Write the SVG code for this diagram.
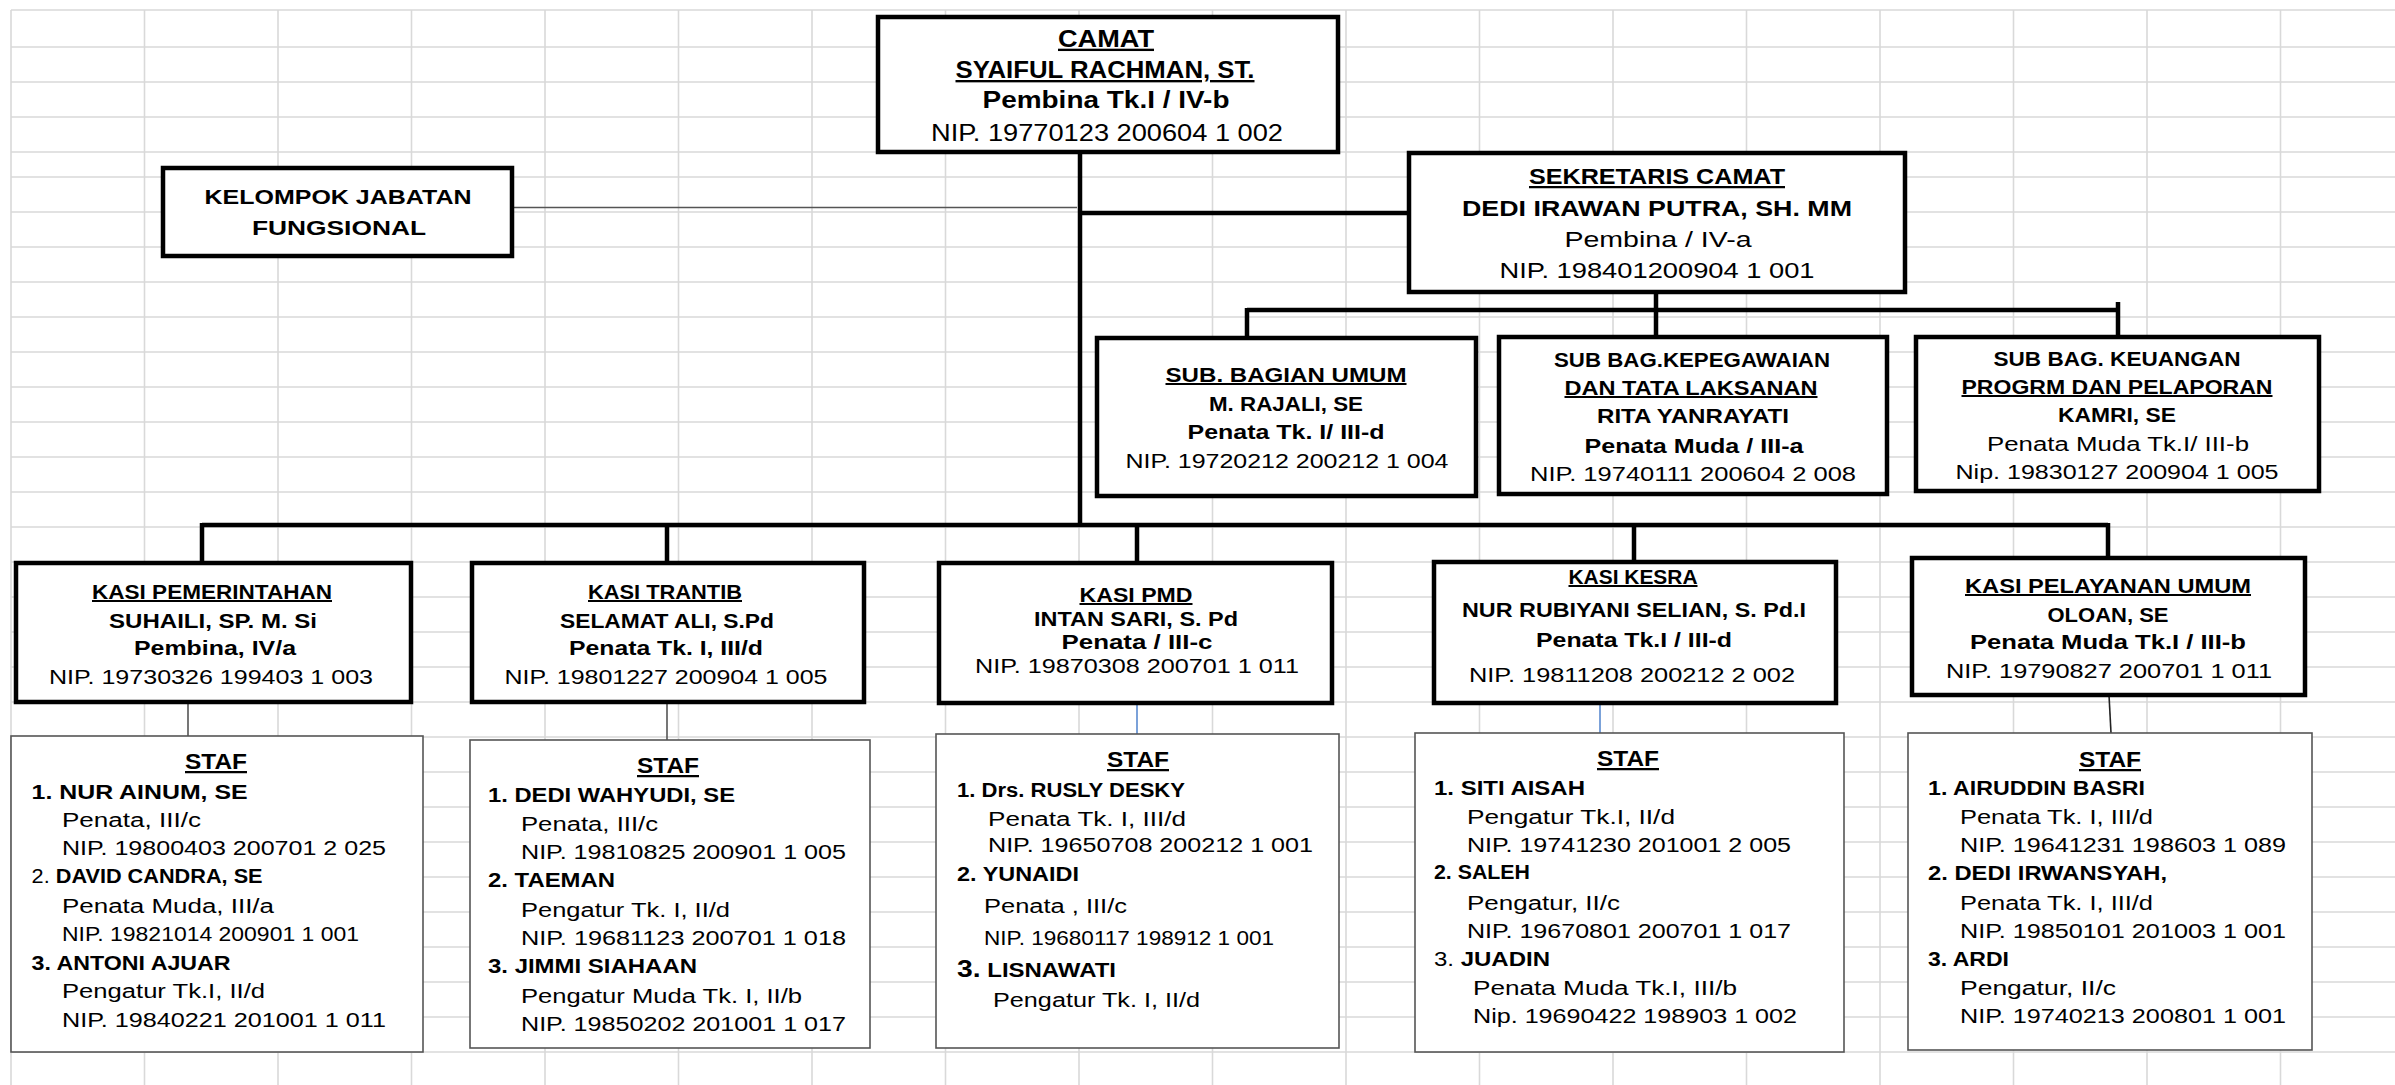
<svg xmlns="http://www.w3.org/2000/svg" width="2395" height="1085" viewBox="0 0 2395 1085">
<style>
text{font-family:"Liberation Sans",Arial,sans-serif;fill:#000}
.b{font-weight:bold}
.r{font-weight:normal}
.m{text-anchor:middle}
.u{text-decoration:underline}
.t{font-size:23.5px}
.k{font-size:20.5px}
.s{font-size:22.5px}
.p{font-size:20px}
.q{font-size:20px}
.f{font-size:19.5px}
.h{font-size:22.5px}
.box{fill:#fff;stroke:#000;stroke-width:4.5}
.sbox{fill:#fff;stroke:#555;stroke-width:1.6}
.grid{fill:none;stroke:#d9d9d9;stroke-width:1.6}
.thick{fill:none;stroke:#000;stroke-width:4.5}
.thin{fill:none;stroke:#555;stroke-width:1.6}
.blue{fill:none;stroke:#5b8bd0;stroke-width:1.6}
</style>
<rect x="0" y="0" width="2395" height="1085" fill="#fff"/>
<path class="grid" d="M11,10V1085M144.5,10V1085M278,10V1085M411.5,10V1085M545,10V1085M678.5,10V1085M812,10V1085M945.5,10V1085M1079,10V1085M1212.5,10V1085M1346,10V1085M1479.5,10V1085M1613,10V1085M1746.5,10V1085M1880,10V1085M2013.5,10V1085M2147,10V1085M2280.5,10V1085
M11,10H2395M11,47H2395M11,82H2395M11,117H2395M11,152H2395M11,177H2395M11,212H2395M11,247H2395M11,282H2395M11,317H2395M11,352H2395M11,387H2395M11,422H2395M11,457H2395M11,492H2395M11,527H2395M11,562H2395M11,597H2395M11,632H2395M11,667H2395M11,702H2395M11,737H2395M11,772H2395M11,807H2395M11,842H2395M11,877H2395M11,912H2395M11,947H2395M11,982H2395M11,1017H2395M11,1052H2395"/>

<g id="connectors">
<path class="thin" d="M512,207.5H1077"/>
<path class="thick" d="M1080,140V527"/>
<path class="thick" d="M1082,213H1409"/>
<path class="thick" d="M1656,292V310M1247,310H2118M1247,308V338M1656,310V337M2118,302V337"/>
<path class="thick" d="M202,525H2108M202,523V563M667,525V563M1137,525V563M1634,525V562M2108,523V558"/>
<path class="thin" d="M188,702V736M667,702V740"/>
<path class="blue" d="M1137,703V734M1600,703V733"/>
<path class="thin" d="M2109,695L2111,733" style="stroke:#222"/>
</g>

<g id="camat">
<rect class="box" x="878" y="17" width="460" height="135"/>
<text class="b m u t" x="1106" y="46.7" textLength="96" lengthAdjust="spacingAndGlyphs">CAMAT</text>
<text class="b m u t" x="1105" y="78" textLength="299" lengthAdjust="spacingAndGlyphs">SYAIFUL RACHMAN, ST.</text>
<text class="b m t" x="1106" y="108" textLength="247" lengthAdjust="spacingAndGlyphs">Pembina Tk.I / IV-b</text>
<text class="r m t" x="1107" y="141" textLength="352" lengthAdjust="spacingAndGlyphs">NIP. 19770123  200604 1 002</text>
</g>

<g id="kelompok">
<rect class="box" x="163" y="168" width="349" height="88"/>
<text class="b m k" x="338" y="204" textLength="267" lengthAdjust="spacingAndGlyphs">KELOMPOK JABATAN</text>
<text class="b m k" x="339" y="235" textLength="174" lengthAdjust="spacingAndGlyphs">FUNGSIONAL</text>
</g>

<g id="sekretaris">
<rect class="box" x="1409" y="153" width="496" height="139"/>
<text class="b m u s" x="1657" y="184" textLength="256" lengthAdjust="spacingAndGlyphs">SEKRETARIS CAMAT</text>
<text class="b m s" x="1657" y="216" textLength="390" lengthAdjust="spacingAndGlyphs">DEDI IRAWAN PUTRA, SH. MM</text>
<text class="r m s" x="1658" y="247" textLength="187" lengthAdjust="spacingAndGlyphs">Pembina / IV-a</text>
<text class="r m s" x="1657" y="278" textLength="315" lengthAdjust="spacingAndGlyphs">NIP. 198401200904  1 001</text>
</g>

<g id="sub-umum">
<rect class="box" x="1097" y="338" width="379" height="158"/>
<text class="b m u p" x="1286" y="382" textLength="241" lengthAdjust="spacingAndGlyphs">SUB. BAGIAN  UMUM</text>
<text class="b m p" x="1286" y="411" textLength="154" lengthAdjust="spacingAndGlyphs">M. RAJALI, SE</text>
<text class="b m p" x="1286" y="439" textLength="197" lengthAdjust="spacingAndGlyphs">Penata Tk. I/  III-d</text>
<text class="r m p" x="1287" y="468" textLength="323" lengthAdjust="spacingAndGlyphs">NIP. 19720212 200212 1 004</text>
</g>

<g id="sub-kepegawaian">
<rect class="box" x="1499" y="337" width="388" height="157"/>
<text class="b m p" x="1692" y="367" textLength="276" lengthAdjust="spacingAndGlyphs">SUB BAG.KEPEGAWAIAN</text>
<text class="b m u p" x="1691" y="395" textLength="253" lengthAdjust="spacingAndGlyphs">DAN TATA LAKSANAN</text>
<text class="b m p" x="1693" y="423" textLength="192" lengthAdjust="spacingAndGlyphs">RITA YANRAYATI</text>
<text class="b m p" x="1694" y="453" textLength="219" lengthAdjust="spacingAndGlyphs">Penata Muda / III-a</text>
<text class="r m p" x="1693" y="481" textLength="326" lengthAdjust="spacingAndGlyphs">NIP. 19740111 200604 2 008</text>
</g>

<g id="sub-keuangan">
<rect class="box" x="1916" y="337" width="403" height="154"/>
<text class="b m p" x="2117" y="366" textLength="247" lengthAdjust="spacingAndGlyphs">SUB BAG.  KEUANGAN</text>
<text class="b m u p" x="2117" y="394" textLength="311" lengthAdjust="spacingAndGlyphs">PROGRM  DAN  PELAPORAN</text>
<text class="b m p" x="2117" y="422" textLength="118" lengthAdjust="spacingAndGlyphs">KAMRI, SE</text>
<text class="r m p" x="2118" y="451" textLength="262" lengthAdjust="spacingAndGlyphs">Penata Muda Tk.I/ III-b</text>
<text class="r m p" x="2117" y="479" textLength="323" lengthAdjust="spacingAndGlyphs">Nip. 19830127 200904 1 005</text>
</g>

<g id="kasi-pemerintahan">
<rect class="box" x="16" y="563" width="395" height="139"/>
<text class="b m u q" x="212" y="599" textLength="240" lengthAdjust="spacingAndGlyphs">KASI PEMERINTAHAN</text>
<text class="b m q" x="213" y="628" textLength="208" lengthAdjust="spacingAndGlyphs">SUHAILI,  SP. M. Si</text>
<text class="b m q" x="215" y="655" textLength="162" lengthAdjust="spacingAndGlyphs">Pembina, IV/a</text>
<text class="r m q" x="211" y="684" textLength="324" lengthAdjust="spacingAndGlyphs">NIP. 19730326 199403 1 003</text>
</g>

<g id="kasi-trantib">
<rect class="box" x="472" y="563" width="392" height="139"/>
<text class="b m u q" x="665" y="599" textLength="154" lengthAdjust="spacingAndGlyphs">KASI TRANTIB</text>
<text class="b m q" x="667" y="628" textLength="214" lengthAdjust="spacingAndGlyphs">SELAMAT ALI, S.Pd</text>
<text class="b m q" x="666" y="655" textLength="194" lengthAdjust="spacingAndGlyphs">Penata Tk. I, III/d</text>
<text class="r m q" x="666" y="684" textLength="323" lengthAdjust="spacingAndGlyphs">NIP. 19801227 200904 1 005</text>
</g>

<g id="kasi-pmd">
<rect class="box" x="939" y="563" width="393" height="140"/>
<text class="b m u q" x="1136" y="602" textLength="113" lengthAdjust="spacingAndGlyphs">KASI PMD</text>
<text class="b m q" x="1136" y="626" textLength="204" lengthAdjust="spacingAndGlyphs">INTAN SARI, S. Pd</text>
<text class="b m q" x="1137" y="649" textLength="151" lengthAdjust="spacingAndGlyphs">Penata  / III-c</text>
<text class="r m q" x="1137" y="673" textLength="324" lengthAdjust="spacingAndGlyphs">NIP. 19870308 200701 1 011</text>
</g>

<g id="kasi-kesra">
<rect class="box" x="1434" y="562" width="402" height="141"/>
<text class="b m u q" x="1633" y="584" textLength="129" lengthAdjust="spacingAndGlyphs">KASI KESRA</text>
<text class="b m q" x="1634" y="617" textLength="344" lengthAdjust="spacingAndGlyphs">NUR RUBIYANI  SELIAN, S. Pd.I</text>
<text class="b m q" x="1634" y="647" textLength="196" lengthAdjust="spacingAndGlyphs">Penata Tk.I / III-d</text>
<text class="r m q" x="1632" y="682" textLength="326" lengthAdjust="spacingAndGlyphs">NIP. 19811208 200212 2 002</text>
</g>

<g id="kasi-pelayanan">
<rect class="box" x="1912" y="558" width="393" height="137"/>
<text class="b m u q" x="2108" y="593" textLength="286" lengthAdjust="spacingAndGlyphs">KASI PELAYANAN UMUM</text>
<text class="b m q" x="2108" y="622" textLength="121" lengthAdjust="spacingAndGlyphs">OLOAN, SE</text>
<text class="b m q" x="2108" y="649" textLength="276" lengthAdjust="spacingAndGlyphs">Penata Muda Tk.I   / III-b</text>
<text class="r m q" x="2109" y="678" textLength="326" lengthAdjust="spacingAndGlyphs">NIP. 19790827 200701 1 011</text>
</g>

<g id="staf-pemerintahan">
<rect class="sbox" x="11" y="736" width="412" height="316"/>
<text class="b m u h" x="216" y="769" textLength="62" lengthAdjust="spacingAndGlyphs">STAF</text>
<text class="b f" x="31.6" y="799" textLength="216" lengthAdjust="spacingAndGlyphs">1.  NUR AINUM,  SE</text>
<text class="r f" x="62" y="827" textLength="139" lengthAdjust="spacingAndGlyphs">Penata, III/c</text>
<text class="r f" x="62" y="855" textLength="324" lengthAdjust="spacingAndGlyphs">NIP. 19800403 200701 2 025</text>
<text class="b f" x="31.6" y="883" textLength="231" lengthAdjust="spacingAndGlyphs"><tspan class="r">2.</tspan>  DAVID CANDRA, SE</text>
<text class="r f" x="62" y="913" textLength="212" lengthAdjust="spacingAndGlyphs">Penata Muda, III/a</text>
<text class="r f" x="62" y="941" textLength="297" lengthAdjust="spacingAndGlyphs">NIP. 19821014  200901 1 001</text>
<text class="b f" x="31.6" y="970" textLength="199" lengthAdjust="spacingAndGlyphs">3. ANTONI AJUAR</text>
<text class="r f" x="62" y="998" textLength="203" lengthAdjust="spacingAndGlyphs">Pengatur Tk.I, II/d</text>
<text class="r f" x="62" y="1027" textLength="324" lengthAdjust="spacingAndGlyphs">NIP. 19840221 201001 1 011</text>
</g>

<g id="staf-trantib">
<rect class="sbox" x="470" y="740" width="400" height="308"/>
<text class="b m u h" x="668" y="773" textLength="62" lengthAdjust="spacingAndGlyphs">STAF</text>
<text class="b f" x="488" y="802" textLength="247" lengthAdjust="spacingAndGlyphs">1. DEDI WAHYUDI,  SE</text>
<text class="r f" x="521" y="831" textLength="137" lengthAdjust="spacingAndGlyphs">Penata, III/c</text>
<text class="r f" x="521" y="859" textLength="325" lengthAdjust="spacingAndGlyphs">NIP. 19810825 200901 1 005</text>
<text class="b f" x="488" y="887" textLength="127" lengthAdjust="spacingAndGlyphs">2. TAEMAN</text>
<text class="r f" x="521" y="917" textLength="209" lengthAdjust="spacingAndGlyphs">Pengatur Tk. I, II/d</text>
<text class="r f" x="521" y="945" textLength="325" lengthAdjust="spacingAndGlyphs">NIP. 19681123 200701 1 018</text>
<text class="b f" x="488" y="973" textLength="209" lengthAdjust="spacingAndGlyphs">3. JIMMI  SIAHAAN</text>
<text class="r f" x="521" y="1003" textLength="281" lengthAdjust="spacingAndGlyphs">Pengatur Muda Tk. I, II/b</text>
<text class="r f" x="521" y="1031" textLength="325" lengthAdjust="spacingAndGlyphs">NIP. 19850202 201001 1 017</text>
</g>

<g id="staf-pmd">
<rect class="sbox" x="936" y="734" width="403" height="314"/>
<text class="b m u h" x="1138" y="767" textLength="62" lengthAdjust="spacingAndGlyphs">STAF</text>
<text class="b f" x="957" y="797" textLength="228" lengthAdjust="spacingAndGlyphs">1. Drs. RUSLY  DESKY</text>
<text class="r f" x="988" y="826" textLength="198" lengthAdjust="spacingAndGlyphs">Penata Tk. I, III/d</text>
<text class="r f" x="988" y="852" textLength="325" lengthAdjust="spacingAndGlyphs">NIP. 19650708 200212 1 001</text>
<text class="b f" x="957" y="881" textLength="122" lengthAdjust="spacingAndGlyphs">2. YUNAIDI</text>
<text class="r f" x="984" y="913" textLength="143" lengthAdjust="spacingAndGlyphs">Penata , III/c</text>
<text class="r f" x="984" y="945" textLength="290" lengthAdjust="spacingAndGlyphs">NIP. 19680117 198912 1 001</text>
<text class="b f" x="957" y="977" textLength="159" lengthAdjust="spacingAndGlyphs"><tspan style="font-size:23px">3.</tspan> LISNAWATI</text>
<text class="r f" x="993" y="1007" textLength="207" lengthAdjust="spacingAndGlyphs">Pengatur Tk. I, II/d</text>
</g>

<g id="staf-kesra">
<rect class="sbox" x="1415" y="733" width="429" height="319"/>
<text class="b m u h" x="1628" y="766" textLength="62" lengthAdjust="spacingAndGlyphs">STAF</text>
<text class="b f" x="1434" y="795" textLength="151" lengthAdjust="spacingAndGlyphs">1.  SITI AISAH</text>
<text class="r f" x="1467" y="824" textLength="208" lengthAdjust="spacingAndGlyphs">Pengatur Tk.I,  II/d</text>
<text class="r f" x="1467" y="852" textLength="324" lengthAdjust="spacingAndGlyphs">NIP. 19741230 201001 2 005</text>
<text class="b f" x="1434" y="879" textLength="96" lengthAdjust="spacingAndGlyphs">2. SALEH</text>
<text class="r f" x="1467" y="910" textLength="153" lengthAdjust="spacingAndGlyphs">Pengatur, II/c</text>
<text class="r f" x="1467" y="938" textLength="324" lengthAdjust="spacingAndGlyphs">NIP. 19670801 200701 1 017</text>
<text class="b f" x="1434" y="966" textLength="116" lengthAdjust="spacingAndGlyphs"><tspan class="r">3.</tspan>  JUADIN</text>
<text class="r f" x="1473" y="995" textLength="264" lengthAdjust="spacingAndGlyphs">Penata Muda Tk.I, III/b</text>
<text class="r f" x="1473" y="1023" textLength="324" lengthAdjust="spacingAndGlyphs">Nip. 19690422 198903 1 002</text>
</g>

<g id="staf-pelayanan">
<rect class="sbox" x="1908" y="733" width="404" height="317"/>
<text class="b m u h" x="2110" y="767" textLength="62" lengthAdjust="spacingAndGlyphs">STAF</text>
<text class="b f" x="1928" y="795" textLength="217" lengthAdjust="spacingAndGlyphs">1. AIRUDDIN  BASRI</text>
<text class="r f" x="1960" y="824" textLength="193" lengthAdjust="spacingAndGlyphs">Penata Tk. I, III/d</text>
<text class="r f" x="1960" y="852" textLength="326" lengthAdjust="spacingAndGlyphs">NIP. 19641231 198603 1 089</text>
<text class="b f" x="1928" y="880" textLength="239" lengthAdjust="spacingAndGlyphs">2. DEDI  IRWANSYAH,</text>
<text class="r f" x="1960" y="910" textLength="193" lengthAdjust="spacingAndGlyphs">Penata Tk. I, III/d</text>
<text class="r f" x="1960" y="938" textLength="326" lengthAdjust="spacingAndGlyphs">NIP. 19850101 201003 1 001</text>
<text class="b f" x="1928" y="966" textLength="81" lengthAdjust="spacingAndGlyphs">3. ARDI</text>
<text class="r f" x="1960" y="995" textLength="156" lengthAdjust="spacingAndGlyphs">Pengatur, II/c</text>
<text class="r f" x="1960" y="1023" textLength="326" lengthAdjust="spacingAndGlyphs">NIP. 19740213 200801 1 001</text>
</g>
</svg>
